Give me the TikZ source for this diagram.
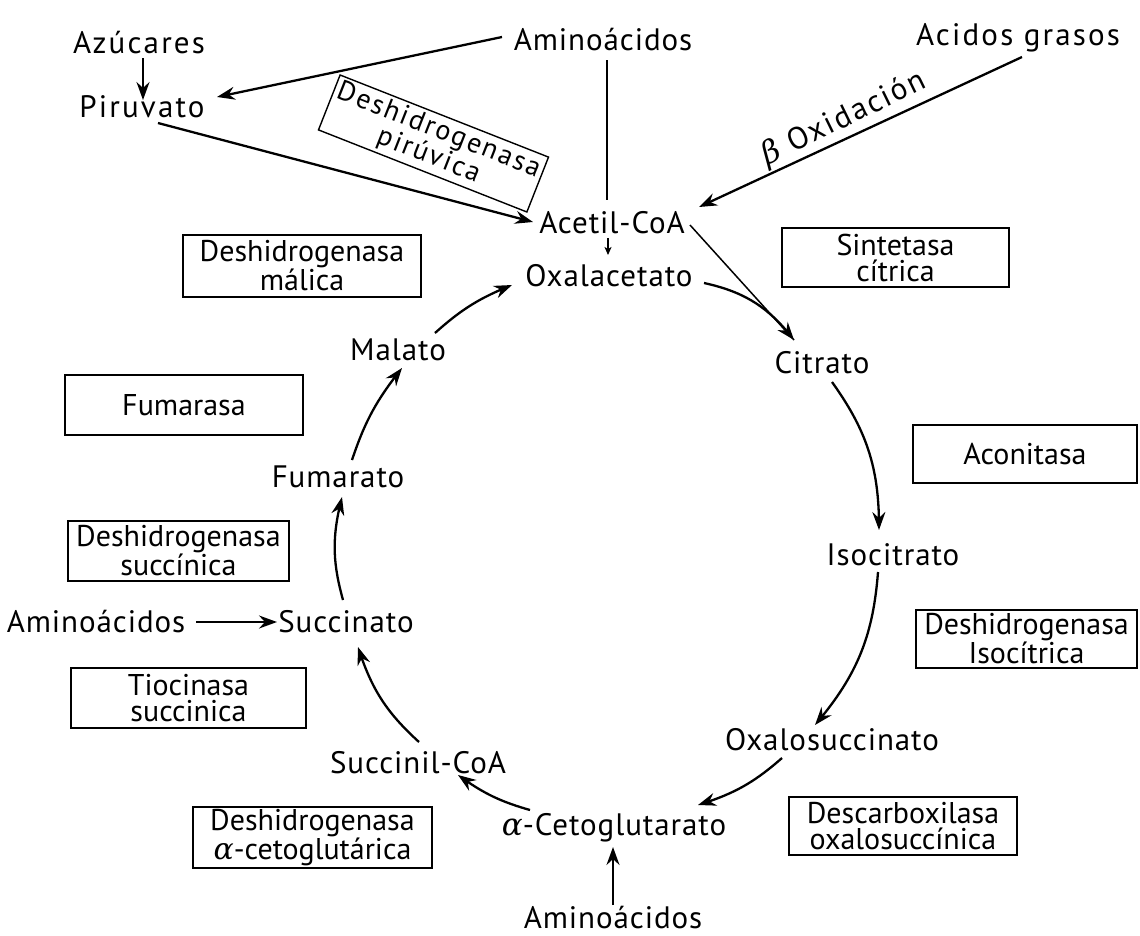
\documentclass[tikz,border=0pt]{standalone}
\usepackage{fontspec}
\setmainfont{PT Sans}
\newfontfamily\grk{DejaVu Serif}
\usetikzlibrary{arrows.meta,bending}
\begin{document}
\begin{tikzpicture}[x=1pt,y=1pt,
  lbl/.style={font=\fontsize{31}{32}\selectfont\addfontfeature{LetterSpace=3}, inner sep=1pt, anchor=base},
  wide/.style={font=\fontsize{31}{32}\selectfont\addfontfeature{LetterSpace=7}},
  enz/.style={draw, line width=1.4pt, font=\fontsize{30}{26}\selectfont, align=center, inner sep=0pt},
  enzrot/.style={enz, font=\fontsize{28}{27}\selectfont\addfontfeature{LetterSpace=7}},
  arr/.style={line width=2.3pt, -{Stealth[length=18pt,width=13pt,inset=6pt]}},
  smallarr/.style={line width=1.3pt, -{Stealth[length=8pt,width=7pt,inset=2pt]}},
  plain/.style={line width=1.5pt}]
\fill[white] (0,0) rectangle (1140,-935);
\useasboundingbox (0,0) rectangle (1140,-935);

% metabolites
\node[lbl, wide] (azuc)   at (139,-53)  {Azúcares};
\node[lbl, wide] (piru)   at (142,-117) {Piruvato};
\node[lbl] (amino1) at (603,-50)  {Aminoácidos};
\node[lbl, wide] (acidos) at (1018,-45) {Acidos grasos};
\node[lbl] (acetil) at (612,-233) {Acetil-CoA};
\node[lbl] (oxala)  at (609,-286) {Oxalacetato};
\node[lbl] (citrato) at (822,-373) {Citrato};
\node[lbl] (isocit) at (893,-565) {Isocitrato};
\node[lbl] (oxalos) at (832,-750) {Oxalosuccinato};
\node[lbl] (ceto)   at (614,-835) {{\grk\itshape α}-Cetoglutarato};
\node[lbl] (amino3) at (613,-928) {Aminoácidos};
\node[lbl] (succoa) at (418,-773) {Succinil-CoA};
\node[lbl] (succ)   at (346,-632) {Succinato};
\node[lbl] (amino2) at (96,-632)  {Aminoácidos};
\node[lbl, wide, rotate=26] (beta) at (848,-126) {{\grk\itshape β} Oxidación};

\node[lbl] (fuma)   at (338,-487) {Fumarato};
\node[lbl] (malato) at (398,-360) {Malato};

% enzymes
\node[enzrot, minimum width=224pt, minimum height=59pt, rotate=-21.5] (epir) at (433.5,-143.5) {Deshidrogenasa\\pirúvica};
\node[enz, minimum width=238pt, minimum height=62pt] (emal) at (302,-266) {Deshidrogenasa\\málica};
\node[enz, minimum width=227pt, minimum height=59pt] (esin) at (895.5,-257.5) {Sintetasa\\cítrica};
\node[enz, minimum width=238pt, minimum height=60pt] (efum) at (184,-405) {Fumarasa};
\node[enz, minimum width=224pt, minimum height=58pt] (eaco) at (1025,-454) {Aconitasa};
\node[enz, minimum width=221pt, minimum height=60pt] (esuc) at (178.5,-551) {Deshidrogenasa\\succínica};
\node[enz, minimum width=221pt, minimum height=58pt] (eiso) at (1026.5,-639) {Deshidrogenasa\\Isocítrica};
\node[enz, minimum width=235pt, minimum height=60pt] (etio) at (188.5,-698) {Tiocinasa\\succinica};
\node[enz, minimum width=228pt, minimum height=58pt] (edes) at (903,-826) {Descarboxilasa\\oxalosuccínica};
\node[enz, minimum width=239pt, minimum height=61pt] (ealf) at (312.5,-837.5) {Deshidrogenasa\\{\grk\itshape α}-cetoglutárica};

% feeder connectors
\draw[arr] ([shift={(4,-5)}]azuc.base) -- ([shift={(1,17)}]piru.base);
\draw[arr] ([shift={(-101,13)}]amino1.base) -- ([shift={(75,20)}]piru.base);
\draw[arr] ([shift={(16,-6)}]piru.base) -- ([shift={(-79,11)}]acetil.base);
\draw[plain] ([shift={(4,-10)}]amino1.base) -- ([shift={(-5,33)}]acetil.base);
\draw[arr] ([shift={(4,-12)}]acidos.base) -- ([shift={(87,26)}]acetil.base);
\draw[smallarr] ([shift={(-4,-5)}]acetil.base) -- ([shift={(-1,31)}]oxala.base);
\draw[plain] ([shift={(78,8)}]acetil.base) -- ([shift={(-28,33)}]citrato.base);
\draw[arr] ([shift={(100,10)}]amino2.base) -- ([shift={(-69,10)}]succ.base);
\draw[arr] ([shift={(0,23)}]amino3.base) -- ([shift={(-1,-12)}]ceto.base);

% cycle
\draw[arr] ([shift={(95,3)}]oxala.base) to[bend left=20] ([shift={(-28,33)}]citrato.base);
\draw[arr] ([shift={(10,-9)}]citrato.base) to[bend left=18] ([shift={(-14,35)}]isocit.base);
\draw[arr] ([shift={(-15,-7)}]isocit.base) to[bend left=18] ([shift={(-17,25)}]oxalos.base);
\draw[arr] ([shift={(-50,-8)}]oxalos.base) to[bend left=12] ([shift={(84,30)}]ceto.base);
\draw[arr] ([shift={(-84,25)}]ceto.base) to[bend left=10] ([shift={(40,-2)}]succoa.base);
\draw[arr] ([shift={(1,31)}]succoa.base) to[bend left=15] ([shift={(12,-15)}]succ.base);
\draw[arr] ([shift={(-3,32)}]succ.base) to[bend left=15] ([shift={(4,-10)}]fuma.base);
\draw[arr] ([shift={(14,27)}]fuma.base) to[bend left=10] ([shift={(4,-8)}]malato.base);
\draw[arr] ([shift={(37,27)}]malato.base) to[bend left=10] ([shift={(-97,1)}]oxala.base);
\end{tikzpicture}
\end{document}
